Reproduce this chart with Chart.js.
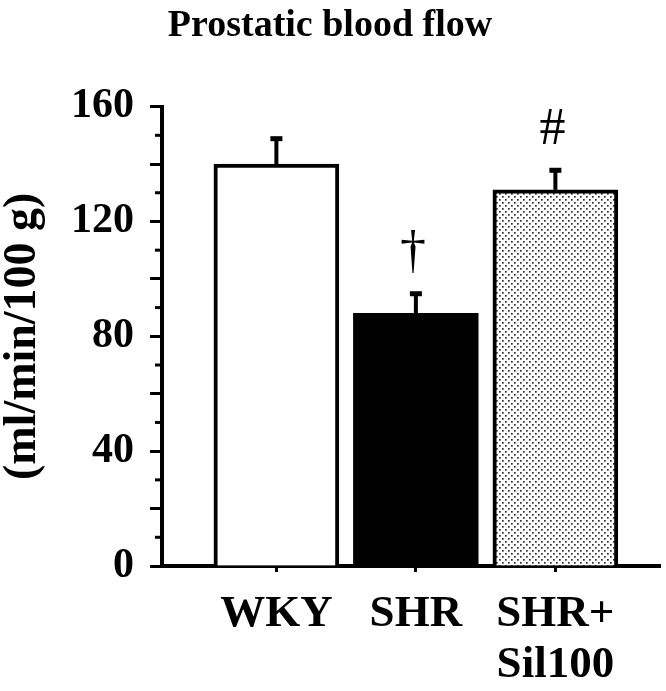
<!DOCTYPE html>
<html>
<head>
<meta charset="utf-8">
<script src="https://cdn.jsdelivr.net/npm/chart.js@4"></script>
<style>
  body { margin: 0; background: #fff; }
  #wrap { width: 666px; height: 691px; }
</style>
</head>
<body>
<div id="wrap"><canvas id="chart"></canvas></div>
<script>
const groups = ["WKY", "SHR", ["SHR+", "Sil100"]];
const means = [140, 88, 131];
const sems = [9, 7, 7];
const marks = ["", "\u2020", "#"];
const yTicks = [0, 40, 80, 120, 160];

const serif = "'Liberation Serif', 'Times New Roman', serif";

// dotted fill for the third bar
function dots() {
  var c = document.createElement("canvas");
  c.width = 6; c.height = 6;
  var g = c.getContext("2d");
  g.fillStyle = "#fff";
  g.fillRect(0, 0, 6, 6);
  g.fillStyle = "#333";
  g.fillRect(1, 1, 1.7, 1.7);
  g.fillRect(4, 4, 1.7, 1.7);
  return g.createPattern(c, "repeat");
}

const extras = {
  id: "extras",
  afterDatasetsDraw(chart) {
    var ctx = chart.ctx, x = chart.scales.x, y = chart.scales.y;
    ctx.save();
    ctx.strokeStyle = "#000";
    ctx.fillStyle = "#000";
    means.forEach(function (m, i) {
      var px = x.getPixelForValue(i + 1);
      var top = y.getPixelForValue(m);
      var cap = y.getPixelForValue(m + sems[i]);
      ctx.lineWidth = 4;
      ctx.beginPath();
      ctx.moveTo(px, top);
      ctx.lineTo(px, cap);
      ctx.stroke();
      ctx.fillRect(px - 6, cap - 2, 12, 5);
      if (marks[i]) {
        ctx.font = "52px " + serif;
        ctx.textAlign = "center";
        ctx.textBaseline = "alphabetic";
        ctx.fillText(marks[i], px - 3, cap - 26);
      }
    });
    // short minor ticks on the y axis
    var left = chart.chartArea.left;
    ctx.lineWidth = 3;
    for (var v = 10; v < 160; v += 20) {
      var py = y.getPixelForValue(v);
      ctx.beginPath();
      ctx.moveTo(left - 7, py);
      ctx.lineTo(left, py);
      ctx.stroke();
    }
    ctx.restore();
  }
};

new Chart(document.getElementById("chart").getContext("2d"), {
  type: "bar",
  data: {
    datasets: [{
      data: means.map(function (m, i) { return { x: i + 1, y: m }; }),
      backgroundColor: ["#fff", "#000", dots()],
      borderColor: "#000",
      borderWidth: 4,
      borderSkipped: "bottom",
      barThickness: 125
    }]
  },
  options: {
    responsive: true,
    maintainAspectRatio: false,
    animation: false,
    layout: { padding: { left: 0, right: 6, top: 0, bottom: 0 } },
    plugins: {
      legend: { display: false },
      tooltip: { enabled: false },
      title: {
        display: true,
        text: "Prostatic blood flow",
        color: "#000",
        font: { family: serif, size: 38, weight: "bold", lineHeight: 1.2 },
        padding: { top: 3, bottom: 58 }
      }
    },
    scales: {
      x: {
        type: "linear",
        offset: false,
        min: 0.18,
        max: 3.75,
        afterBuildTicks: function (s) {
          s.ticks = groups.map(function (g, i) { return { value: i + 1 }; });
        },
        afterFit: function (s) { s.height = 125; },
        border: { color: "#000", width: 4 },
        grid: { offset: false, drawOnChartArea: false, tickLength: 6, tickWidth: 3, tickColor: "#000" },
        ticks: {
          color: "#000",
          padding: 16,
          autoSkip: false,
          maxRotation: 0,
          font: { family: serif, size: 45, weight: "bold", lineHeight: 1.15 },
          callback: function (v) { return groups[v - 1]; }
        }
      },
      y: {
        min: 0,
        max: 160,
        afterBuildTicks: function (s) {
          var t = [];
          for (var v = 0; v <= 160; v += 20) t.push({ value: v });
          s.ticks = t;
        },
        afterFit: function (s) { s.width = 162; },
        border: { color: "#000", width: 4 },
        grid: { drawOnChartArea: false, tickLength: 12, tickWidth: 3, tickColor: "#000" },
        ticks: {
          color: "#000",
          padding: 16,
          autoSkip: false,
          font: { family: serif, size: 42, weight: "bold" },
          callback: function (v) { return yTicks.indexOf(v) >= 0 ? v : ""; }
        },
        title: {
          display: true,
          text: "(ml/min/100 g)",
          color: "#000",
          padding: 0,
          font: { family: serif, size: 46, weight: "bold", lineHeight: 1.0 }
        }
      }
    }
  },
  plugins: [extras]
});
</script>
</body>
</html>
